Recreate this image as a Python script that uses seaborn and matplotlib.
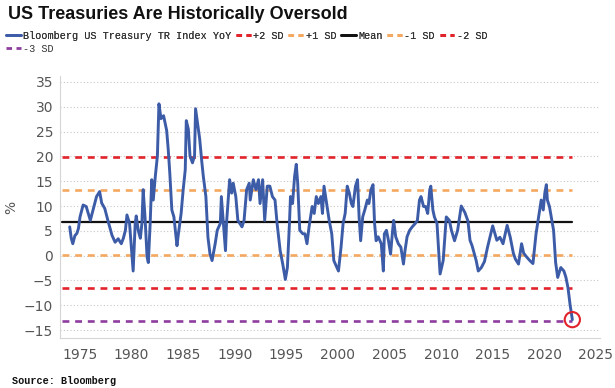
import numpy as np
from matplotlib import pyplot as plt
from matplotlib.lines import Line2D
import seaborn as sns

# Bloomberg US Treasury TR Index, YoY %
dates = [
    1974.0, 1974.15, 1974.3, 1974.5, 1974.7, 1974.85, 1975.0, 1975.3, 1975.6, 1975.8,
    1976.0, 1976.3, 1976.6, 1976.9, 1977.1, 1977.4, 1977.7, 1978.1, 1978.4, 1978.7,
    1979.0, 1979.2, 1979.4, 1979.55, 1979.8, 1980.0, 1980.15, 1980.35, 1980.45, 1980.65,
    1980.85, 1981.0, 1981.12, 1981.3, 1981.5, 1981.62, 1981.8, 1981.95, 1982.1, 1982.3,
    1982.5, 1982.65, 1982.85, 1983.1, 1983.4, 1983.55, 1983.7, 1983.9, 1984.1, 1984.4,
    1984.5, 1984.8, 1985.0, 1985.2, 1985.3, 1985.5, 1985.66, 1985.9, 1986.1, 1986.2,
    1986.4, 1986.6, 1986.8, 1986.95, 1987.2, 1987.4, 1987.6, 1987.8, 1988.1, 1988.3,
    1988.6, 1988.7, 1988.9, 1989.1, 1989.2, 1989.5, 1989.7, 1989.85, 1990.1, 1990.3,
    1990.7, 1990.9, 1991.15, 1991.4, 1991.5, 1991.8, 1992.05, 1992.3, 1992.45, 1992.7,
    1992.9, 1993.15, 1993.4, 1993.65, 1993.9, 1994.1, 1994.4, 1994.65, 1994.9, 1995.1,
    1995.3, 1995.4, 1995.6, 1995.8, 1995.96, 1996.1, 1996.3, 1996.6, 1996.8, 1997.0,
    1997.2, 1997.5, 1997.7, 1997.9, 1998.1, 1998.35, 1998.5, 1998.65, 1998.9, 1999.15,
    1999.4, 1999.6, 1999.9, 2000.05, 2000.3, 2000.5, 2000.7, 2000.9, 2001.1, 2001.3,
    2001.45, 2001.7, 2001.9, 2002.05, 2002.2, 2002.4, 2002.6, 2002.85, 2003.0, 2003.2,
    2003.4, 2003.55, 2003.7, 2003.9, 2004.2, 2004.4, 2004.5, 2004.7, 2004.9, 2005.1,
    2005.3, 2005.4, 2005.6, 2005.85, 2006.1, 2006.35, 2006.5, 2006.7, 2006.95, 2007.2,
    2007.5, 2007.7, 2007.9, 2008.05, 2008.3, 2008.5, 2008.7, 2008.9, 2009.0, 2009.2,
    2009.35, 2009.6, 2009.9, 2010.2, 2010.5, 2010.8, 2011.0, 2011.3, 2011.6, 2011.95,
    2012.3, 2012.6, 2012.8, 2013.0, 2013.4, 2013.6, 2013.9, 2014.2, 2014.5, 2015.0,
    2015.4, 2015.7, 2016.0, 2016.4, 2016.7, 2017.0, 2017.2, 2017.5, 2017.8, 2018.0,
    2018.3, 2018.6, 2018.9, 2019.2, 2019.5, 2019.7, 2019.9, 2020.05, 2020.2, 2020.3,
    2020.5, 2020.7, 2020.9, 2021.1, 2021.3, 2021.6, 2021.9, 2022.1, 2022.3, 2022.5,
    2022.72,
]
yoy = [
    5.8, 3.5, 2.4, 4.0, 4.5, 5.5, 7.8, 10.2, 9.9, 8.5,
    7.1, 9.5, 11.9, 12.9, 10.6, 9.5, 7.1, 4.1, 2.7, 3.4,
    2.4, 3.5, 5.1, 8.2, 6.5, 1.0, -3.1, 6.5, 8.0, 5.0,
    3.5, 6.5, 13.3, 7.8, -0.3, -1.4, 6.5, 15.3, 11.2, 16.0,
    20.1, 30.6, 27.6, 28.2, 25.2, 21.4, 16.7, 9.2, 7.8, 2.0,
    3.8, 8.5, 13.3, 17.3, 27.2, 25.5, 20.1, 18.7, 20.1, 29.6,
    26.5, 23.5, 19.0, 16.0, 11.9, 3.7, 0.3, -1.0, 2.4, 5.1,
    6.5, 11.9, 6.5, 1.0, 6.5, 15.3, 12.6, 14.6, 11.9, 7.1,
    5.8, 7.1, 13.3, 14.6, 11.2, 15.3, 13.3, 15.3, 10.5, 15.3,
    7.1, 14.0, 14.0, 11.9, 11.2, 6.5, 1.0, -1.7, -4.8, -2.4,
    6.5, 11.9, 10.5, 16.0, 18.4, 14.6, 5.1, 4.4, 4.4, 2.4,
    5.8, 9.9, 8.5, 11.9, 10.5, 11.9, 8.5, 14.0, 10.5, 7.1,
    4.4, -1.0, -2.4, -3.1, 1.7, 6.5, 8.5, 14.0, 12.6, 10.5,
    9.9, 14.0, 15.3, 7.8, 3.0, 7.8, 9.2, 11.2, 10.5, 13.3,
    14.3, 6.5, 3.0, 3.8, 2.4, -3.1, 4.4, 5.1, 3.0, 0.3,
    5.1, 7.1, 3.8, 2.4, 1.7, -1.7, 1.0, 3.8, 5.1, 5.8,
    6.5, 7.1, 11.2, 11.9, 9.9, 9.9, 8.5, 13.3, 14.0, 9.2,
    7.8, 6.5, -3.7, -1.0, 7.8, 7.1, 5.1, 3.0, 5.1, 10.0,
    8.7, 7.0, 3.1, 2.0, -1.0, -3.1, -2.4, -1.2, 1.7, 6.0,
    3.1, 3.7, 2.4, 6.1, 3.7, 0.5, -0.7, -1.7, 2.4, 0.5,
    -0.3, -1.0, -1.6, 4.4, 8.5, 11.2, 9.2, 12.6, 14.3, 11.2,
    9.9, 7.5, 5.1, -1.4, -4.4, -2.4, -3.1, -4.4, -6.5, -9.9,
    -12.9,
]

# standard deviation bands
band_labels = ['+2 SD', '+1 SD', 'Mean', '-1 SD', '-2 SD', '-3 SD']
band_levels = [19.9, 13.3, 6.7, 0.1, -6.5, -13.1]
band_colors = ['#e2232b', '#f4a860', '#111111', '#f4a860', '#e2232b', '#8e3c9e']

series_label = 'Bloomberg US Treasury TR Index YoY'
blue = '#3d5ca8'

sns.set_style('white')
plt.rcParams['font.family'] = ['DejaVu Sans']

fig = plt.figure(figsize=(6.15, 3.88), dpi=100)
ax = fig.add_axes([60/615, 50/388, 540/615, 262/388])

for lab, lev, col in zip(band_labels, band_levels, band_colors):
    if lab == 'Mean':
        ax.axhline(lev, xmin=0.004, xmax=0.948, color=col, lw=1.6, zorder=2)
    else:
        ax.axhline(lev, xmin=0.004, xmax=0.948, color=col, lw=1.9,
                   ls=(0, (2.6, 2.2)), zorder=2)

sns.lineplot(x=dates, y=yoy, ax=ax, color=blue, lw=2.1, zorder=3)

ax.scatter([dates[-1]], [yoy[-1]], s=120, facecolors='none',
           edgecolors='#e2232b', linewidths=1.5, zorder=4)

ax.set_xlim(1973.06, 2025.4)
ax.set_ylim(-16.6, 36.2)
ax.set_xticks(range(1975, 2026, 5))
ax.set_yticks(range(-15, 36, 5))
ax.grid(axis='y', ls=(0, (1, 2)), color='#c8c8c8', lw=0.8, zorder=0)
ax.grid(axis='x', visible=False)

for s in ['top', 'right']:
    ax.spines[s].set_visible(False)
for s in ['left', 'bottom']:
    ax.spines[s].set_color('#d6d6d6')
    ax.spines[s].set_linewidth(0.8)

ax.tick_params(axis='x', direction='out', length=4, width=0.8, color='#888888',
               labelsize=10, labelcolor='#555555', pad=3)
ax.tick_params(axis='y', direction='out', length=2, width=0.8, color='#bbbbbb',
               labelsize=10, labelcolor='#555555', pad=3)

ax.set_ylabel('%', fontsize=10, color='#555555')
ax.yaxis.set_label_coords(-0.078, 0.5)

mono = ['Liberation Mono', 'DejaVu Sans Mono']

fig.text(8/615, 1 - 19/388, 'US Treasuries Are Historically Oversold',
         family=['Liberation Sans Narrow', 'Liberation Sans', 'DejaVu Sans'],
         fontsize=13, fontweight='bold', color='#111111', va='baseline')

handles = [Line2D([], [], color=blue, lw=2)]
for lab, col in zip(band_labels, band_colors):
    if lab == 'Mean':
        handles.append(Line2D([], [], color=col, lw=2))
    else:
        handles.append(Line2D([], [], color=col, lw=2, ls=(0, (2.0, 1.6))))
labels = [series_label] + band_labels

leg1 = fig.legend(handles[:6], labels[:6], ncol=6, loc='center left',
                  bbox_to_anchor=(6/615, 1 - 36/388), frameon=False,
                  prop={'family': mono, 'size': 7.3}, handlelength=1.45,
                  handletextpad=0.25, columnspacing=0.45, borderpad=0,
                  borderaxespad=0, labelcolor='#333333')
fig.add_artist(leg1)
fig.legend(handles[6:], labels[6:], loc='center left',
           bbox_to_anchor=(6/615, 1 - 48.5/388), frameon=False,
           prop={'family': mono, 'size': 7.3}, handlelength=1.45,
           handletextpad=0.25, borderpad=0, borderaxespad=0,
           labelcolor='#333333')

fig.text(12/615, 1 - 381/388, 'Source: Bloomberg', family=mono, fontsize=7.3,
         fontweight='bold', color='#111111', va='center')

fig.savefig('out.png', dpi=100)
